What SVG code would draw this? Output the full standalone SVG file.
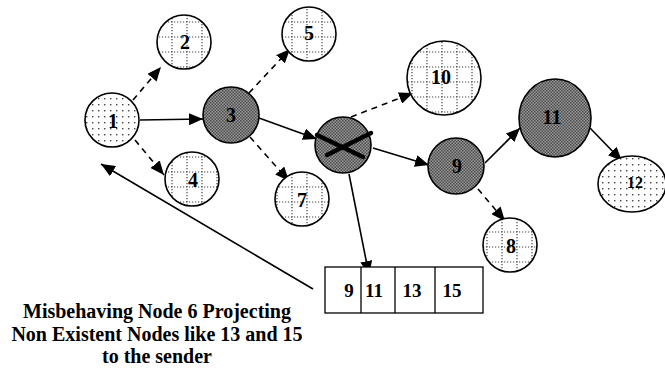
<svg xmlns="http://www.w3.org/2000/svg" width="665" height="369" viewBox="0 0 665 369">
<style>
.n{stroke:#000;stroke-width:1.6}
.d{fill:url(#dark)}
.g{fill:url(#grid)}
.p{fill:url(#dots)}
.t{font-family:"Liberation Serif",serif;font-weight:bold;fill:#000;text-anchor:middle}
.e{stroke:#000;stroke-width:1.6;fill:none;marker-end:url(#ah)}
.dash{stroke-dasharray:6,5}
</style>
<defs>
<pattern id="dark" width="3" height="3" patternUnits="userSpaceOnUse">
<rect width="3" height="3" fill="#9a9a9a"/>
<rect width="1.5" height="1.5" fill="#4a4a4a"/>
<rect x="1.5" y="1.5" width="1.5" height="1.5" fill="#4a4a4a"/>
</pattern>
<pattern id="grid" width="15" height="15" patternUnits="userSpaceOnUse">
<rect width="15" height="15" fill="#fff"/>
<line x1="0" y1="7" x2="15" y2="7" stroke="#444" stroke-width="1.2" stroke-dasharray="1.2,1.8"/>
<line x1="7" y1="0" x2="7" y2="15" stroke="#444" stroke-width="1.2" stroke-dasharray="1.2,1.8"/>
</pattern>
<pattern id="dots" width="6" height="6" patternUnits="userSpaceOnUse">
<rect width="6" height="6" fill="#fff"/>
<rect x="2" y="2" width="1.4" height="1.4" fill="#444"/>
</pattern>
<marker id="ah" viewBox="0 0 14 12" refX="14" refY="6" markerWidth="14" markerHeight="12" markerUnits="userSpaceOnUse" orient="auto">
<path d="M0,0 L14,6 L0,12 z" fill="#000"/>
</marker>
</defs>
<g id="connectors">
<line class="e" x1="140" y1="120" x2="203" y2="119"/>
<line class="e dash" x1="133" y1="100" x2="161" y2="67"/>
<line class="e dash" x1="135" y1="140" x2="164" y2="175"/>
<line class="e dash" x1="249" y1="93" x2="290" y2="49"/>
<line class="e dash" x1="250" y1="137" x2="289" y2="181"/>
<line class="e" x1="259" y1="118" x2="317" y2="139"/>
<line class="e dash" x1="351" y1="117" x2="413" y2="93"/>
<line class="e" x1="373" y1="148" x2="429" y2="165"/>
<line class="e" x1="485" y1="163" x2="520" y2="128"/>
<line class="e dash" x1="478" y1="189" x2="505" y2="221"/>
<line class="e" x1="590" y1="128" x2="622" y2="161"/>
<line class="e" x1="349" y1="174" x2="369" y2="275"/>
<line class="e" x1="313" y1="289" x2="101" y2="164"/>
</g>
<g id="node1"><circle class="n p" cx="112" cy="120" r="27"/><text class="t" x="113" y="128" font-size="20">1</text></g>
<g id="node2"><circle class="n g" cx="184" cy="42" r="27"/><text class="t" x="185" y="49" font-size="20">2</text></g>
<g id="node3"><circle class="n d" cx="231" cy="115" r="28"/><text class="t" x="231" y="122" font-size="20">3</text></g>
<g id="node4"><circle class="n g" cx="192" cy="179" r="27"/><text class="t" x="193" y="187" font-size="20">4</text></g>
<g id="node5"><circle class="n g" cx="309" cy="34" r="27"/><text class="t" x="309" y="40" font-size="20">5</text></g>
<g id="node7"><circle class="n g" cx="302" cy="199" r="27"/><text class="t" x="302" y="207" font-size="20">7</text></g>
<g id="node6"><circle class="n d" cx="343" cy="145" r="28"/>
<line x1="317" y1="135" x2="363" y2="157" stroke="#000" stroke-width="4.5" stroke-linecap="round"/>
<line x1="327" y1="155" x2="371" y2="133" stroke="#000" stroke-width="4.5" stroke-linecap="round"/></g>
<g id="node10"><circle class="n g" cx="444" cy="78" r="37"/><text class="t" x="441" y="84" font-size="20">10</text></g>
<g id="node9"><circle class="n d" cx="456" cy="166" r="28"/><text class="t" x="457" y="173" font-size="20">9</text></g>
<g id="node11"><ellipse class="n d" cx="555" cy="118" rx="36" ry="39"/><text class="t" x="552" y="124" font-size="20">11</text></g>
<g id="node12"><ellipse class="n p" cx="632" cy="184" rx="34" ry="28"/><text class="t" x="635" y="188" font-size="16">12</text></g>
<g id="node8"><circle class="n g" cx="510" cy="245" r="27"/><text class="t" x="511" y="253" font-size="20">8</text></g>
<g id="box">
<rect x="325" y="267" width="158" height="46" fill="#fff" stroke="#000" stroke-width="1.3"/>
<line x1="361" y1="267" x2="361" y2="313" stroke="#000" stroke-width="1.3"/>
<line x1="395" y1="267" x2="395" y2="313" stroke="#000" stroke-width="1.3"/>
<line x1="435" y1="267" x2="435" y2="313" stroke="#000" stroke-width="1.3"/>
<text class="t" x="349" y="297" font-size="19">9</text>
<text class="t" x="374" y="297" font-size="19">11</text>
<text class="t" x="412" y="297" font-size="19">13</text>
<text class="t" x="452" y="297" font-size="19">15</text>
</g>
<g id="caption">
<text class="t" x="157" y="318" font-size="20">Misbehaving Node 6 Projecting</text>
<text class="t" x="157" y="341" font-size="20">Non Existent Nodes like 13 and 15</text>
<text class="t" x="157" y="363" font-size="20">to the sender</text>
</g>
</svg>
